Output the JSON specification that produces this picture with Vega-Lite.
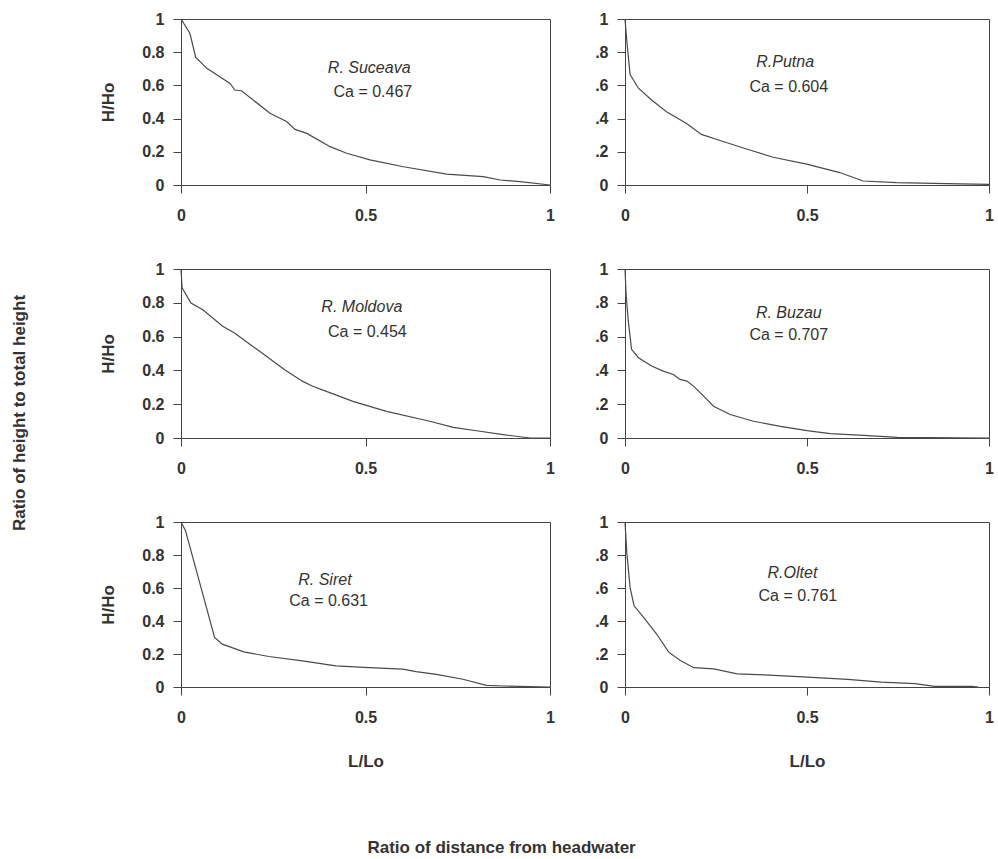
{
  "$schema": "https://vega.github.io/schema/vega-lite/v6.json",
  "background": "white",
  "padding": {"left": 11, "top": 10, "right": 4, "bottom": 2},
  "title": {"text": "Ratio of height to total height", "orient": "left", "anchor": "middle", "offset": 70, "dx": 20},
  "datasets": {
    "curves": [
      {"river": "Suceava", "x": 0, "y": 1},
      {"river": "Suceava", "x": 0.024, "y": 0.914},
      {"river": "Suceava", "x": 0.04, "y": 0.769},
      {"river": "Suceava", "x": 0.07, "y": 0.703},
      {"river": "Suceava", "x": 0.133, "y": 0.612},
      {"river": "Suceava", "x": 0.146, "y": 0.572},
      {"river": "Suceava", "x": 0.164, "y": 0.568},
      {"river": "Suceava", "x": 0.241, "y": 0.432},
      {"river": "Suceava", "x": 0.286, "y": 0.382},
      {"river": "Suceava", "x": 0.309, "y": 0.335},
      {"river": "Suceava", "x": 0.341, "y": 0.311},
      {"river": "Suceava", "x": 0.404, "y": 0.231},
      {"river": "Suceava", "x": 0.449, "y": 0.191},
      {"river": "Suceava", "x": 0.512, "y": 0.151},
      {"river": "Suceava", "x": 0.603, "y": 0.11},
      {"river": "Suceava", "x": 0.72, "y": 0.066},
      {"river": "Suceava", "x": 0.819, "y": 0.05},
      {"river": "Suceava", "x": 0.865, "y": 0.03},
      {"river": "Suceava", "x": 0.919, "y": 0.02},
      {"river": "Suceava", "x": 1, "y": 0},
      {"river": "Putna", "x": 0, "y": 1},
      {"river": "Putna", "x": 0.005, "y": 0.868},
      {"river": "Putna", "x": 0.014, "y": 0.665},
      {"river": "Putna", "x": 0.037, "y": 0.583},
      {"river": "Putna", "x": 0.073, "y": 0.512},
      {"river": "Putna", "x": 0.114, "y": 0.441},
      {"river": "Putna", "x": 0.169, "y": 0.37},
      {"river": "Putna", "x": 0.21, "y": 0.305},
      {"river": "Putna", "x": 0.261, "y": 0.268},
      {"river": "Putna", "x": 0.334, "y": 0.217},
      {"river": "Putna", "x": 0.407, "y": 0.167},
      {"river": "Putna", "x": 0.499, "y": 0.126},
      {"river": "Putna", "x": 0.59, "y": 0.075},
      {"river": "Putna", "x": 0.654, "y": 0.024},
      {"river": "Putna", "x": 0.746, "y": 0.014},
      {"river": "Putna", "x": 0.883, "y": 0.008},
      {"river": "Putna", "x": 1, "y": 0.004},
      {"river": "Moldova", "x": 0, "y": 1},
      {"river": "Moldova", "x": 0.003, "y": 0.888},
      {"river": "Moldova", "x": 0.027, "y": 0.799},
      {"river": "Moldova", "x": 0.059, "y": 0.759},
      {"river": "Moldova", "x": 0.113, "y": 0.661},
      {"river": "Moldova", "x": 0.145, "y": 0.621},
      {"river": "Moldova", "x": 0.213, "y": 0.513},
      {"river": "Moldova", "x": 0.281, "y": 0.404},
      {"river": "Moldova", "x": 0.33, "y": 0.335},
      {"river": "Moldova", "x": 0.357, "y": 0.306},
      {"river": "Moldova", "x": 0.394, "y": 0.276},
      {"river": "Moldova", "x": 0.466, "y": 0.217},
      {"river": "Moldova", "x": 0.557, "y": 0.158},
      {"river": "Moldova", "x": 0.674, "y": 0.099},
      {"river": "Moldova", "x": 0.738, "y": 0.063},
      {"river": "Moldova", "x": 0.801, "y": 0.043},
      {"river": "Moldova", "x": 0.873, "y": 0.02},
      {"river": "Moldova", "x": 0.946, "y": 0},
      {"river": "Moldova", "x": 1, "y": 0},
      {"river": "Buzau", "x": 0, "y": 1},
      {"river": "Buzau", "x": 0.003, "y": 0.851},
      {"river": "Buzau", "x": 0.009, "y": 0.693},
      {"river": "Buzau", "x": 0.018, "y": 0.525},
      {"river": "Buzau", "x": 0.037, "y": 0.475},
      {"river": "Buzau", "x": 0.073, "y": 0.426},
      {"river": "Buzau", "x": 0.105, "y": 0.396},
      {"river": "Buzau", "x": 0.133, "y": 0.376},
      {"river": "Buzau", "x": 0.151, "y": 0.347},
      {"river": "Buzau", "x": 0.17, "y": 0.337},
      {"river": "Buzau", "x": 0.188, "y": 0.307},
      {"river": "Buzau", "x": 0.216, "y": 0.248},
      {"river": "Buzau", "x": 0.243, "y": 0.188},
      {"river": "Buzau", "x": 0.289, "y": 0.139},
      {"river": "Buzau", "x": 0.353, "y": 0.099},
      {"river": "Buzau", "x": 0.427, "y": 0.069},
      {"river": "Buzau", "x": 0.5, "y": 0.044},
      {"river": "Buzau", "x": 0.564, "y": 0.026},
      {"river": "Buzau", "x": 0.656, "y": 0.016},
      {"river": "Buzau", "x": 0.748, "y": 0.004},
      {"river": "Buzau", "x": 1, "y": 0},
      {"river": "Siret", "x": 0, "y": 1},
      {"river": "Siret", "x": 0.012, "y": 0.949},
      {"river": "Siret", "x": 0.091, "y": 0.3},
      {"river": "Siret", "x": 0.112, "y": 0.26},
      {"river": "Siret", "x": 0.17, "y": 0.213},
      {"river": "Siret", "x": 0.238, "y": 0.185},
      {"river": "Siret", "x": 0.329, "y": 0.158},
      {"river": "Siret", "x": 0.42, "y": 0.128},
      {"river": "Siret", "x": 0.51, "y": 0.118},
      {"river": "Siret", "x": 0.601, "y": 0.108},
      {"river": "Siret", "x": 0.637, "y": 0.093},
      {"river": "Siret", "x": 0.692, "y": 0.077},
      {"river": "Siret", "x": 0.764, "y": 0.047},
      {"river": "Siret", "x": 0.828, "y": 0.01},
      {"river": "Siret", "x": 0.873, "y": 0.006},
      {"river": "Siret", "x": 1, "y": 0},
      {"river": "Oltet", "x": 0, "y": 1},
      {"river": "Oltet", "x": 0.005, "y": 0.813},
      {"river": "Oltet", "x": 0.014, "y": 0.602},
      {"river": "Oltet", "x": 0.025, "y": 0.492},
      {"river": "Oltet", "x": 0.051, "y": 0.422},
      {"river": "Oltet", "x": 0.087, "y": 0.321},
      {"river": "Oltet", "x": 0.12, "y": 0.211},
      {"river": "Oltet", "x": 0.152, "y": 0.161},
      {"river": "Oltet", "x": 0.189, "y": 0.117},
      {"river": "Oltet", "x": 0.244, "y": 0.11},
      {"river": "Oltet", "x": 0.308, "y": 0.08},
      {"river": "Oltet", "x": 0.382, "y": 0.074},
      {"river": "Oltet", "x": 0.501, "y": 0.06},
      {"river": "Oltet", "x": 0.612, "y": 0.046},
      {"river": "Oltet", "x": 0.704, "y": 0.03},
      {"river": "Oltet", "x": 0.796, "y": 0.02},
      {"river": "Oltet", "x": 0.851, "y": 0.004},
      {"river": "Oltet", "x": 0.952, "y": 0.004},
      {"river": "Oltet", "x": 0.971, "y": 0}
    ],
    "labels": [
      {"river": "Suceava", "kind": "name", "x": 0.51, "y": 0.705, "text": "R. Suceava"},
      {"river": "Suceava", "kind": "ca", "x": 0.52, "y": 0.56, "text": "Ca = 0.467"},
      {"river": "Putna", "kind": "name", "x": 0.44, "y": 0.74, "text": "R.Putna"},
      {"river": "Putna", "kind": "ca", "x": 0.45, "y": 0.59, "text": "Ca = 0.604"},
      {"river": "Moldova", "kind": "name", "x": 0.49, "y": 0.775, "text": "R. Moldova"},
      {"river": "Moldova", "kind": "ca", "x": 0.505, "y": 0.63, "text": "Ca = 0.454"},
      {"river": "Buzau", "kind": "name", "x": 0.45, "y": 0.74, "text": "R. Buzau"},
      {"river": "Buzau", "kind": "ca", "x": 0.45, "y": 0.61, "text": "Ca = 0.707"},
      {"river": "Siret", "kind": "name", "x": 0.39, "y": 0.65, "text": "R. Siret"},
      {"river": "Siret", "kind": "ca", "x": 0.4, "y": 0.52, "text": "Ca = 0.631"},
      {"river": "Oltet", "kind": "name", "x": 0.46, "y": 0.69, "text": "R.Oltet"},
      {"river": "Oltet", "kind": "ca", "x": 0.475, "y": 0.55, "text": "Ca = 0.761"}
    ]
  },
  "vconcat": [
    {
      "title": {"text": "Ratio of distance from headwater", "orient": "bottom", "anchor": "middle", "offset": 70, "dx": -45},
      "spacing": 36,
      "vconcat": [
        {
          "spacing": 75,
          "bounds": "flush",
          "hconcat": [
            {
              "width": 369, "height": 166,
              "encoding": {
                "x": {"field": "x", "type": "quantitative", "scale": {"domain": [0, 1]}, "axis": {"values": [0, 0.5, 1], "format": "~g", "labelOverlap": false, "title": null}},
                "y": {"field": "y", "type": "quantitative", "scale": {"domain": [0, 1]}, "axis": {"values": [0, 0.2, 0.4, 0.6, 0.8, 1], "format": "~g", "labelOverlap": false, "title": "H/Ho"}}
              },
              "layer": [
                {"data": {"name": "curves"}, "transform": [{"filter": "datum.river === 'Suceava'"}],
                 "mark": {"type": "line", "color": "#4a4a4a", "strokeWidth": 1.2}},
                {"data": {"name": "labels"}, "transform": [{"filter": "datum.river === 'Suceava' && datum.kind === 'name'"}],
                 "mark": {"type": "text", "fontStyle": "italic", "fontSize": 16, "color": "#333"},
                 "encoding": {"text": {"field": "text"}}},
                {"data": {"name": "labels"}, "transform": [{"filter": "datum.river === 'Suceava' && datum.kind === 'ca'"}],
                 "mark": {"type": "text", "fontSize": 16, "color": "#333"},
                 "encoding": {"text": {"field": "text"}}}
              ]
            },
            {
              "width": 364, "height": 166,
              "encoding": {
                "x": {"field": "x", "type": "quantitative", "scale": {"domain": [0, 1]}, "axis": {"values": [0, 0.5, 1], "format": "~g", "labelOverlap": false, "title": null}},
                "y": {"field": "y", "type": "quantitative", "scale": {"domain": [0, 1]}, "axis": {"values": [0, 0.2, 0.4, 0.6, 0.8, 1], "labelExpr": "replace(format(datum.value, '~g'), '0.', '.')", "labelOverlap": false, "title": null}}
              },
              "layer": [
                {"data": {"name": "curves"}, "transform": [{"filter": "datum.river === 'Putna'"}],
                 "mark": {"type": "line", "color": "#4a4a4a", "strokeWidth": 1.2}},
                {"data": {"name": "labels"}, "transform": [{"filter": "datum.river === 'Putna' && datum.kind === 'name'"}],
                 "mark": {"type": "text", "fontStyle": "italic", "fontSize": 16, "color": "#333"},
                 "encoding": {"text": {"field": "text"}}},
                {"data": {"name": "labels"}, "transform": [{"filter": "datum.river === 'Putna' && datum.kind === 'ca'"}],
                 "mark": {"type": "text", "fontSize": 16, "color": "#333"},
                 "encoding": {"text": {"field": "text"}}}
              ]
            }
          ]
        },
        {
          "spacing": 75,
          "bounds": "flush",
          "hconcat": [
            {
              "width": 369, "height": 169,
              "encoding": {
                "x": {"field": "x", "type": "quantitative", "scale": {"domain": [0, 1]}, "axis": {"values": [0, 0.5, 1], "format": "~g", "labelOverlap": false, "title": null}},
                "y": {"field": "y", "type": "quantitative", "scale": {"domain": [0, 1]}, "axis": {"values": [0, 0.2, 0.4, 0.6, 0.8, 1], "format": "~g", "labelOverlap": false, "title": "H/Ho"}}
              },
              "layer": [
                {"data": {"name": "curves"}, "transform": [{"filter": "datum.river === 'Moldova'"}],
                 "mark": {"type": "line", "color": "#4a4a4a", "strokeWidth": 1.2}},
                {"data": {"name": "labels"}, "transform": [{"filter": "datum.river === 'Moldova' && datum.kind === 'name'"}],
                 "mark": {"type": "text", "fontStyle": "italic", "fontSize": 16, "color": "#333"},
                 "encoding": {"text": {"field": "text"}}},
                {"data": {"name": "labels"}, "transform": [{"filter": "datum.river === 'Moldova' && datum.kind === 'ca'"}],
                 "mark": {"type": "text", "fontSize": 16, "color": "#333"},
                 "encoding": {"text": {"field": "text"}}}
              ]
            },
            {
              "width": 364, "height": 169,
              "encoding": {
                "x": {"field": "x", "type": "quantitative", "scale": {"domain": [0, 1]}, "axis": {"values": [0, 0.5, 1], "format": "~g", "labelOverlap": false, "title": null}},
                "y": {"field": "y", "type": "quantitative", "scale": {"domain": [0, 1]}, "axis": {"values": [0, 0.2, 0.4, 0.6, 0.8, 1], "labelExpr": "replace(format(datum.value, '~g'), '0.', '.')", "labelOverlap": false, "title": null}}
              },
              "layer": [
                {"data": {"name": "curves"}, "transform": [{"filter": "datum.river === 'Buzau'"}],
                 "mark": {"type": "line", "color": "#4a4a4a", "strokeWidth": 1.2}},
                {"data": {"name": "labels"}, "transform": [{"filter": "datum.river === 'Buzau' && datum.kind === 'name'"}],
                 "mark": {"type": "text", "fontStyle": "italic", "fontSize": 16, "color": "#333"},
                 "encoding": {"text": {"field": "text"}}},
                {"data": {"name": "labels"}, "transform": [{"filter": "datum.river === 'Buzau' && datum.kind === 'ca'"}],
                 "mark": {"type": "text", "fontSize": 16, "color": "#333"},
                 "encoding": {"text": {"field": "text"}}}
              ]
            }
          ]
        },
        {
          "spacing": 75,
          "bounds": "flush",
          "hconcat": [
            {
              "width": 369, "height": 165,
              "encoding": {
                "x": {"field": "x", "type": "quantitative", "scale": {"domain": [0, 1]}, "axis": {"values": [0, 0.5, 1], "format": "~g", "labelOverlap": false, "title": "L/Lo"}},
                "y": {"field": "y", "type": "quantitative", "scale": {"domain": [0, 1]}, "axis": {"values": [0, 0.2, 0.4, 0.6, 0.8, 1], "format": "~g", "labelOverlap": false, "title": "H/Ho"}}
              },
              "layer": [
                {"data": {"name": "curves"}, "transform": [{"filter": "datum.river === 'Siret'"}],
                 "mark": {"type": "line", "color": "#4a4a4a", "strokeWidth": 1.2}},
                {"data": {"name": "labels"}, "transform": [{"filter": "datum.river === 'Siret' && datum.kind === 'name'"}],
                 "mark": {"type": "text", "fontStyle": "italic", "fontSize": 16, "color": "#333"},
                 "encoding": {"text": {"field": "text"}}},
                {"data": {"name": "labels"}, "transform": [{"filter": "datum.river === 'Siret' && datum.kind === 'ca'"}],
                 "mark": {"type": "text", "fontSize": 16, "color": "#333"},
                 "encoding": {"text": {"field": "text"}}}
              ]
            },
            {
              "width": 364, "height": 165,
              "encoding": {
                "x": {"field": "x", "type": "quantitative", "scale": {"domain": [0, 1]}, "axis": {"values": [0, 0.5, 1], "format": "~g", "labelOverlap": false, "title": "L/Lo"}},
                "y": {"field": "y", "type": "quantitative", "scale": {"domain": [0, 1]}, "axis": {"values": [0, 0.2, 0.4, 0.6, 0.8, 1], "labelExpr": "replace(format(datum.value, '~g'), '0.', '.')", "labelOverlap": false, "title": null}}
              },
              "layer": [
                {"data": {"name": "curves"}, "transform": [{"filter": "datum.river === 'Oltet'"}],
                 "mark": {"type": "line", "color": "#4a4a4a", "strokeWidth": 1.2}},
                {"data": {"name": "labels"}, "transform": [{"filter": "datum.river === 'Oltet' && datum.kind === 'name'"}],
                 "mark": {"type": "text", "fontStyle": "italic", "fontSize": 16, "color": "#333"},
                 "encoding": {"text": {"field": "text"}}},
                {"data": {"name": "labels"}, "transform": [{"filter": "datum.river === 'Oltet' && datum.kind === 'ca'"}],
                 "mark": {"type": "text", "fontSize": 16, "color": "#333"},
                 "encoding": {"text": {"field": "text"}}}
              ]
            }
          ]
        }
      ]
    }
  ],
  "config": {
    "font": "Liberation Sans",
    "view": {"stroke": "#444", "strokeWidth": 1},
    "title": {"font": "Liberation Sans", "fontSize": 17, "fontWeight": "bold", "color": "#333"},
    "axis": {
      "grid": false,
      "domainColor": "#444",
      "tickColor": "#444",
      "tickSize": 8,
      "labelFont": "Liberation Sans",
      "labelFontSize": 16,
      "labelFontWeight": "bold",
      "labelColor": "#333",
      "labelFlush": false,
      "labelOverlap": false,
      "titleFont": "Liberation Sans",
      "titleFontSize": 17,
      "titleFontWeight": "bold",
      "titleColor": "#333"
    },
    "axisX": {"labelPadding": 14, "titlePadding": 28},
    "axisY": {"labelPadding": 9, "titlePadding": 24}
  }
}
